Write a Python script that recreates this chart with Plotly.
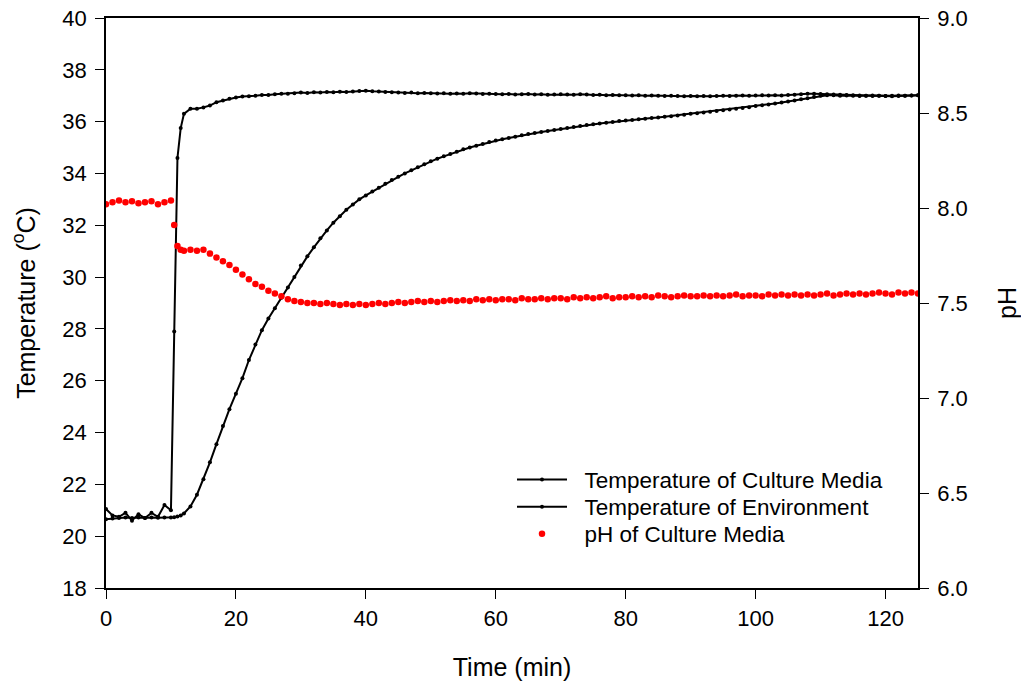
import plotly.graph_objects as go

# Sampling times (min)
time_min = list(range(0, 11)) + [10.5, 11, 11.5] + list(range(12, 126))
time_min = sorted(time_min)

# Temperature of Culture Media (deg C)
temp_media = [
    20.65, 20.68, 20.70, 20.72, 20.70, 20.72, 20.70, 20.72, 20.71, 20.72,  # 0-9
    20.72, 20.73, 20.76, 20.80,                                            # 10,10.5,11,11.5
    20.88, 21.15, 21.60, 22.20, 22.85, 23.55, 24.25, 24.90, 25.50, 26.10,  # 12-21
    26.80, 27.40, 27.95, 28.40, 28.80, 29.20, 29.60, 30.00, 30.45, 30.80,  # 22-31
    31.15, 31.50, 31.80, 32.10, 32.35, 32.60, 32.80, 33.00, 33.15, 33.30,  # 32-41
    33.45, 33.60, 33.75, 33.87, 34.00, 34.12, 34.24, 34.36, 34.47, 34.57,  # 42-51
    34.66, 34.75, 34.84, 34.93, 35.00, 35.07, 35.14, 35.21, 35.27, 35.32,  # 52-61
    35.37, 35.42, 35.47, 35.52, 35.56, 35.60, 35.64, 35.68, 35.72, 35.75,  # 62-71
    35.79, 35.83, 35.87, 35.90, 35.93, 35.96, 35.99, 36.02, 36.04, 36.06,  # 72-81
    36.09, 36.11, 36.14, 36.16, 36.19, 36.21, 36.24, 36.27, 36.30, 36.32,  # 82-91
    36.35, 36.38, 36.41, 36.44, 36.47, 36.50, 36.53, 36.56, 36.60, 36.63,  # 92-101
    36.66, 36.70, 36.74, 36.78, 36.82, 36.86, 36.90, 36.95, 37.00, 37.02,  # 102-111
    37.02, 37.00, 37.01, 37.00, 36.99, 37.00, 37.01, 37.00, 36.99, 37.00,  # 112-121
    37.01, 37.00, 37.01, 37.02,                                            # 122-125
]

# Temperature of Environment (deg C)
temp_env = [
    21.05, 20.80, 20.75, 20.90, 20.60, 20.85, 20.70, 20.90, 20.75, 21.20,  # 0-9
    21.00, 27.90, 34.60, 35.75,                                            # 10,10.5,11,11.5
    36.30, 36.50, 36.50, 36.55, 36.62, 36.75, 36.82, 36.88, 36.93, 36.97,  # 12-21
    36.98, 37.00, 37.03, 37.03, 37.06, 37.08, 37.08, 37.10, 37.12, 37.11,  # 22-31
    37.13, 37.12, 37.14, 37.13, 37.15, 37.14, 37.16, 37.18, 37.19, 37.17,  # 32-41
    37.16, 37.14, 37.13, 37.12, 37.11, 37.12, 37.10, 37.11, 37.10, 37.09,  # 42-51
    37.10, 37.08, 37.09, 37.08, 37.10, 37.09, 37.07, 37.08, 37.07, 37.06,  # 52-61
    37.07, 37.05, 37.06, 37.07, 37.05, 37.06, 37.04, 37.05, 37.06, 37.05,  # 62-71
    37.04, 37.06, 37.05, 37.03, 37.04, 37.02, 37.03, 37.02, 37.02, 37.01,  # 72-81
    37.02, 37.00, 37.01, 37.00, 36.99, 37.00, 36.99, 36.98, 36.99, 36.98,  # 82-91
    36.99, 36.98, 36.99, 37.00, 36.99, 37.00, 37.01, 37.00, 37.01, 37.02,  # 92-101
    37.01, 37.02, 37.01, 37.03, 37.04, 37.06, 37.08, 37.08, 37.07, 37.06,  # 102-111
    37.05, 37.04, 37.03, 37.02, 37.01, 37.00, 36.99, 37.00, 36.99, 36.98,  # 112-121
    36.99, 37.00, 37.01, 37.02,                                            # 122-125
]

# pH of Culture Media
ph_media = [
    8.020, 8.030, 8.040, 8.030, 8.035, 8.025, 8.030, 8.035, 8.020, 8.030,  # 0-9
    8.040, 7.910, 7.800, 7.780,                                            # 10,10.5,11,11.5
    7.775, 7.780, 7.775, 7.780, 7.760, 7.740, 7.720, 7.700, 7.675, 7.650,  # 12-21
    7.625, 7.600, 7.585, 7.565, 7.550, 7.535, 7.520, 7.510, 7.505, 7.500,  # 22-31
    7.500, 7.495, 7.500, 7.495, 7.490, 7.495, 7.490, 7.495, 7.490, 7.495,  # 32-41
    7.500, 7.495, 7.500, 7.505, 7.500, 7.505, 7.510, 7.505, 7.510, 7.505,  # 42-51
    7.510, 7.515, 7.510, 7.515, 7.510, 7.520, 7.515, 7.520, 7.515, 7.520,  # 52-61
    7.520, 7.515, 7.525, 7.520, 7.520, 7.525, 7.520, 7.525, 7.525, 7.520,  # 62-71
    7.530, 7.525, 7.530, 7.525, 7.530, 7.535, 7.525, 7.530, 7.530, 7.535,  # 72-81
    7.530, 7.535, 7.530, 7.540, 7.535, 7.530, 7.535, 7.540, 7.535, 7.535,  # 82-91
    7.540, 7.535, 7.540, 7.535, 7.540, 7.545, 7.535, 7.540, 7.540, 7.535,  # 92-101
    7.545, 7.540, 7.545, 7.540, 7.545, 7.540, 7.545, 7.540, 7.545, 7.550,  # 102-111
    7.540, 7.545, 7.550, 7.545, 7.550, 7.545, 7.550, 7.555, 7.550, 7.545,  # 112-121
    7.555, 7.550, 7.555, 7.550,                                            # 122-125
]

series_names = ["Temperature of Culture Media", "Temperature of Environment",
                "pH of Culture Media"]
x_ticks = [0, 20, 40, 60, 80, 100, 120]
temp_ticks = [18, 20, 22, 24, 26, 28, 30, 32, 34, 36, 38, 40]
ph_ticks = [6.0, 6.5, 7.0, 7.5, 8.0, 8.5, 9.0]

FONT = "Liberation Sans, Arial, sans-serif"
PAD = "\u00a0\u00a0"

fig = go.Figure()
fig.add_trace(go.Scatter(
    x=time_min, y=temp_media, name=PAD + series_names[0], legend="legend",
    mode="lines+markers", line=dict(color="black", width=2),
    marker=dict(color="black", size=4), yaxis="y"))
fig.add_trace(go.Scatter(
    x=time_min, y=temp_env, name=PAD + series_names[1], legend="legend2",
    mode="lines+markers", line=dict(color="black", width=2),
    marker=dict(color="black", size=4), yaxis="y"))
fig.add_trace(go.Scatter(
    x=time_min, y=ph_media, name=PAD + series_names[2], legend="legend3",
    mode="markers", marker=dict(color="#ff0000", size=6.5), yaxis="y2"))

axis_common = dict(showgrid=False, zeroline=False, showline=True,
                   linecolor="black", linewidth=1.5, ticks="outside",
                   ticklen=9, tickwidth=1.2, tickcolor="black", automargin=False,
                   tickfont=dict(family=FONT, size=22, color="black"))

legend_common = dict(x=0.5, xanchor="left", yanchor="middle",
                     bgcolor="rgba(0,0,0,0)", borderwidth=0,
                     font=dict(family=FONT, size=22.5, color="black"),
                     itemwidth=50)

fig.update_layout(
    width=1021, height=684,
    margin=dict(l=106, r=103, t=18, b=96, autoexpand=False),
    paper_bgcolor="white", plot_bgcolor="white",
    font=dict(family=FONT, size=22, color="black"),
    xaxis=dict(range=[0, 125], tickvals=x_ticks, mirror=True,
               ticklabelstandoff=1,
               title=dict(text="Time (min)", font=dict(family=FONT, size=25), standoff=28),
               **axis_common),
    yaxis=dict(range=[18, 40], tickvals=temp_ticks, ticklabelstandoff=4,
               title=dict(text="Temperature (<sup>o</sup>C)", font=dict(family=FONT, size=25), standoff=20),
               **axis_common),
    yaxis2=dict(range=[6, 9], tickvals=ph_ticks, tickformat=".1f",
                overlaying="y", side="right", anchor="x", ticklabelstandoff=4,
                title=dict(text="pH", font=dict(family=FONT, size=25), standoff=33),
                **axis_common),
    legend=dict(y=0.1895, **legend_common),
    legend2=dict(y=0.1421, **legend_common),
    legend3=dict(y=0.0947, **legend_common),
    showlegend=True,
)

fig.write_html("out.html")
